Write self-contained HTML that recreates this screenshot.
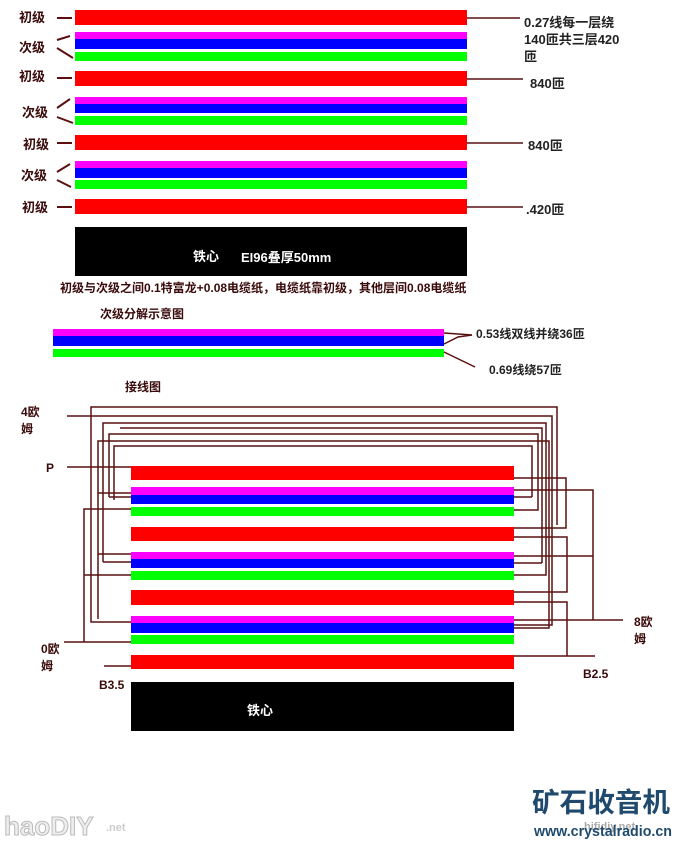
<!DOCTYPE html>
<html><head><meta charset="utf-8"><style>
html,body{margin:0;padding:0;background:#fff;}
svg{display:block}
text{font-family:"Liberation Sans","Noto Sans CJK SC",sans-serif;font-weight:bold;}
</style></head><body>
<svg width="680" height="845" viewBox="0 0 680 845" xmlns="http://www.w3.org/2000/svg">
<rect width="680" height="845" fill="#fff"/>
<g>
<rect x="75" y="10" width="392" height="15" fill="#f00"/>
<rect x="75" y="32" width="392" height="7" fill="#f0f"/>
<rect x="75" y="39" width="392" height="10" fill="#00f"/>
<rect x="75" y="52" width="392" height="9" fill="#0f0"/>
<rect x="75" y="71" width="392" height="15" fill="#f00"/>
<rect x="75" y="97" width="392" height="7" fill="#f0f"/>
<rect x="75" y="104" width="392" height="9" fill="#00f"/>
<rect x="75" y="116" width="392" height="9" fill="#0f0"/>
<rect x="75" y="135" width="392" height="15" fill="#f00"/>
<rect x="75" y="161" width="392" height="7" fill="#f0f"/>
<rect x="75" y="168" width="392" height="10" fill="#00f"/>
<rect x="75" y="180" width="392" height="9" fill="#0f0"/>
<rect x="75" y="199" width="392" height="15" fill="#f00"/>
<rect x="75" y="227" width="392" height="49" fill="#000"/>
</g>
<g stroke="#5a1010" stroke-width="2" fill="none">
<line x1="57" y1="18" x2="72" y2="18"/>
<line x1="57" y1="40" x2="70" y2="36"/><line x1="57" y1="48" x2="73" y2="58"/>
<line x1="57" y1="78" x2="72" y2="78"/>
<line x1="57" y1="108" x2="70" y2="99"/><line x1="57" y1="117" x2="73" y2="123"/>
<line x1="57" y1="143" x2="72" y2="143"/>
<line x1="57" y1="172" x2="70" y2="164"/><line x1="57" y1="180" x2="71" y2="187"/>
<line x1="57" y1="207" x2="72" y2="207"/>
<line x1="467" y1="18" x2="520" y2="18" stroke-width="1.5"/>
<line x1="467" y1="79" x2="523" y2="79" stroke-width="1.5"/>
<line x1="467" y1="143" x2="523" y2="143" stroke-width="1.5"/>
<line x1="467" y1="207" x2="523" y2="207" stroke-width="1.5"/>
</g>
<g fill="#3a0a0a" font-size="13">
<text x="19" y="22">初级</text><text x="19" y="52">次级</text><text x="19" y="81">初级</text>
<text x="22" y="117">次级</text><text x="23" y="149">初级</text><text x="21" y="180">次级</text>
<text x="22" y="212">初级</text>
</g>
<g fill="#222" font-size="13">
<text x="524" y="27">0.27线每一层绕</text>
<text x="524" y="44">140匝共三层420</text>
<text x="524" y="61">匝</text>
<text x="530" y="88">840匝</text>
<text x="528" y="150">840匝</text>
<text x="526" y="214">.420匝</text>
</g>
<text x="193" y="261" fill="#fff" font-size="13">铁心</text>
<text x="241" y="262" fill="#fff" font-size="13" font-weight="normal">EI96叠厚50mm</text>
<text x="60" y="292" fill="#3a0a0a" font-size="12">初级与次级之间0.1特富龙+0.08电缆纸，电缆纸靠初级，其他层间0.08电缆纸</text>
<text x="100" y="318" fill="#3a0a0a" font-size="12">次级分解示意图</text>
<rect x="53" y="329" width="391" height="7" fill="#f0f"/>
<rect x="53" y="336" width="391" height="10" fill="#00f"/>
<rect x="53" y="349" width="391" height="8" fill="#0f0"/>
<g stroke="#5a1010" stroke-width="1.5" fill="none">
<polyline points="444,333 458,334 472,335"/><polyline points="444,344 458,337 472,335"/>
<line x1="444" y1="352" x2="475" y2="367"/>
</g>
<text x="476" y="338" fill="#222" font-size="12">0.53线双线并绕36匝</text>
<text x="489" y="374" fill="#222" font-size="12">0.69线绕57匝</text>
<text x="125" y="391" fill="#3a0a0a" font-size="12">接线图</text>
<g>
<rect x="131" y="466" width="383" height="14" fill="#f00"/>
<rect x="131" y="487" width="383" height="8" fill="#f0f"/>
<rect x="131" y="495" width="383" height="9" fill="#00f"/>
<rect x="131" y="507" width="383" height="9" fill="#0f0"/>
<rect x="131" y="527" width="383" height="14" fill="#f00"/>
<rect x="131" y="552" width="383" height="7" fill="#f0f"/>
<rect x="131" y="559" width="383" height="9" fill="#00f"/>
<rect x="131" y="571" width="383" height="9" fill="#0f0"/>
<rect x="131" y="590" width="383" height="15" fill="#f00"/>
<rect x="131" y="616" width="383" height="7" fill="#f0f"/>
<rect x="131" y="623" width="383" height="10" fill="#00f"/>
<rect x="131" y="635" width="383" height="9" fill="#0f0"/>
<rect x="131" y="655" width="383" height="14" fill="#f00"/>
<rect x="131" y="682" width="383" height="49" fill="#000"/>
</g>
<g stroke="#5a1010" stroke-width="1.5" fill="none">
<polyline points="557,525 557,407 91,407 91,622 131,622"/>
<polyline points="67,416 552,416 552,625 514,625"/>
<polyline points="98,619 98,441 549,441 549,628 514,628"/>
<polyline points="103,562 103,423 546,423 546,575 514,575"/>
<polyline points="98,493 131,493"/>
<polyline points="98,554 131,554"/>
<polyline points="103,562 131,562"/>
<polyline points="109,497 109,434 538,434 538,510 514,510"/>
<polyline points="109,497 131,497"/>
<polyline points="542,563 542,428 120,428"/>
<line x1="542" y1="563" x2="514" y2="563"/>
<polyline points="532,497 532,446 114,446 114,500"/>
<line x1="532" y1="497" x2="514" y2="497"/>
<polyline points="84,642 84,509 131,509"/>
<line x1="84" y1="575" x2="131" y2="575"/>
<line x1="64" y1="642" x2="131" y2="642"/>
<line x1="67" y1="467" x2="131" y2="467"/>
<line x1="104" y1="666" x2="131" y2="666"/>
<polyline points="514,478 566,478 566,528 514,528"/>
<polyline points="514,537 567,537 567,592 514,592"/>
<polyline points="514,602 567,602 567,656"/>
<line x1="514" y1="656" x2="595" y2="656"/>
<polyline points="514,490 593,490 593,620"/>
<line x1="514" y1="556" x2="593" y2="556"/>
<line x1="514" y1="620" x2="623" y2="620"/>
</g>
<g fill="#3a0a0a" font-size="12">
<text x="21" y="416">4欧</text><text x="21" y="433">姆</text>
<text x="46" y="472">P</text>
<text x="41" y="653">0欧</text><text x="41" y="670">姆</text>
<text x="99" y="689">B3.5</text>
<text x="634" y="626">8欧</text><text x="634" y="643">姆</text>
<text x="583" y="678">B2.5</text>
</g>
<text x="247" y="715" fill="#fff" font-size="13">铁心</text>
<text x="532" y="812" fill="#1f4a6e" font-size="27" font-weight="bold" textLength="138" lengthAdjust="spacingAndGlyphs">矿石收音机</text>
<text x="584" y="830" fill="#aaa" font-size="11" font-family="Liberation Mono,monospace" font-weight="normal">hifidiy.net</text>
<text x="534" y="836" fill="#1f4a6e" font-size="15" textLength="138" lengthAdjust="spacingAndGlyphs">www.crystalradio.cn</text>
<text x="4" y="835" fill="#eee" stroke="#bbb" stroke-width="1" font-size="26" font-weight="normal">haoDIY</text>
<text x="106" y="831" fill="#ccc" font-size="11">.net</text>
</svg>
</body></html>
